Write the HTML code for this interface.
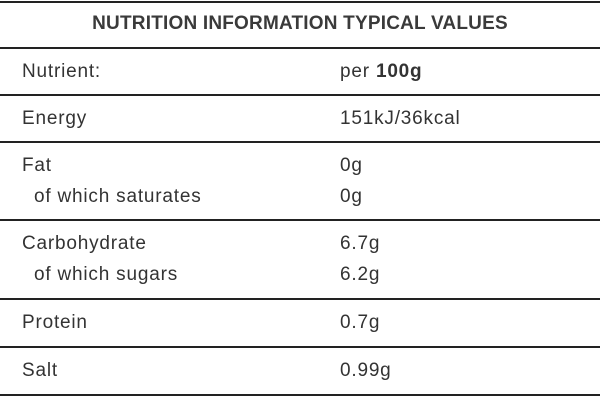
<!DOCTYPE html>
<html><head><style>
body{margin:0;width:600px;height:407px;background:#fff;position:relative;overflow:hidden;font-family:"Liberation Sans",sans-serif;color:#333;}
.l{position:absolute;left:0;width:600px;height:2px;background:#222;}
.t{position:absolute;font-size:19px;line-height:22px;white-space:nowrap;letter-spacing:0.8px;}
.h{position:absolute;left:0;width:600px;text-align:center;font-weight:bold;font-size:19px;top:13px;color:#3a3a3a;letter-spacing:0.2px;}
</style></head><body>
<div class="l" style="top:1px"></div>
<div class="l" style="top:47px"></div>
<div class="l" style="top:94px"></div>
<div class="l" style="top:141px"></div>
<div class="l" style="top:219px"></div>
<div class="l" style="top:298px"></div>
<div class="l" style="top:346px"></div>
<div class="l" style="top:394px"></div>
<div class="h">NUTRITION INFORMATION TYPICAL VALUES</div>
<div class="t" style="left:22px;top:61px">Nutrient:</div><div class="t" style="left:340px;top:61px">per <b>100g</b></div>
<div class="t" style="left:22px;top:108px">Energy</div><div class="t" style="left:340px;top:108px">151kJ/36kcal</div>
<div class="t" style="left:22px;top:155px">Fat</div><div class="t" style="left:340px;top:155px">0g</div>
<div class="t" style="left:34px;top:186px">of which saturates</div><div class="t" style="left:340px;top:186px">0g</div>
<div class="t" style="left:22px;top:233px">Carbohydrate</div><div class="t" style="left:340px;top:233px">6.7g</div>
<div class="t" style="left:34px;top:264px">of which sugars</div><div class="t" style="left:340px;top:264px">6.2g</div>
<div class="t" style="left:22px;top:312px">Protein</div><div class="t" style="left:340px;top:312px">0.7g</div>
<div class="t" style="left:22px;top:360px">Salt</div><div class="t" style="left:340px;top:360px">0.99g</div>
</body></html>
